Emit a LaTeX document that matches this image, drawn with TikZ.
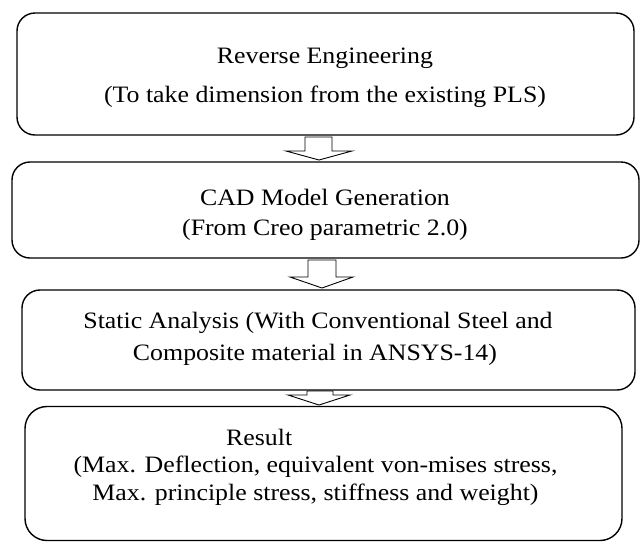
\documentclass[tikz,border=0pt]{standalone}
\usepackage{fontspec}
\setmainfont{Liberation Serif}[FakeStretch=1.1]
\begin{document}
\begin{tikzpicture}[x=1pt,y=-1pt,
  box/.style={draw, line width=1.4pt, rounded corners=18pt, inner sep=0pt},
  blockarrow/.style={draw, line width=0.9pt, fill=white, line join=miter},
  lbl/.style={font=\fontsize{23.5}{28}\selectfont, anchor=center, inner sep=0pt}]
\useasboundingbox (0,0) rectangle (642,542);
% boxes
\node[box, minimum width=617pt, minimum height=122pt] (b1) at (325.5,74) {};
\node[box, minimum width=627pt, minimum height=96pt] (b2) at (325.5,210) {};
\node[box, minimum width=613pt, minimum height=100pt] (b3) at (328.5,340) {};
\node[box, minimum width=597pt, minimum height=134pt, rounded corners=22pt] (b4) at (323.5,473.5) {};
% texts
\node[lbl] (t1a) at (325,58) {Reverse Engineering};
\node[lbl] (t1b) at (325,97) {(To take dimension from the existing PLS)};
\node[lbl] (t2a) at (325,197) {CAD Model Generation};
\node[lbl] (t2b) at (325,230) {(From Creo parametric 2.0)};
\node[lbl] (t3a) at (318,323) {Static Analysis (With Conventional Steel and};
\node[lbl] (t3b) at (315,355) {Composite material in ANSYS-14)};
\node[lbl, anchor=west] (t4a) at (226,437) {Result};
\node[lbl] (t4b) at (315.5,467) {(Max. Deflection, equivalent von-mises stress,};
\node[lbl] (t4c) at (315.5,495) {Max. principle stress, stiffness and weight)};
% block arrows
\draw[blockarrow] (305,137) -- (332,137) -- (332,151) -- (352,151) -- (319,160) -- (286,151) -- (305,151) -- cycle;
\draw[blockarrow] (308,260) -- (336,260) -- (336,277) -- (353,277) -- (322,288) -- (290,277) -- (308,277) -- cycle;
\draw[blockarrow] (307,391) -- (333,391) -- (333,395) -- (350,395) -- (319,405) -- (288,395) -- (307,395) -- cycle;
\end{tikzpicture}
\end{document}
